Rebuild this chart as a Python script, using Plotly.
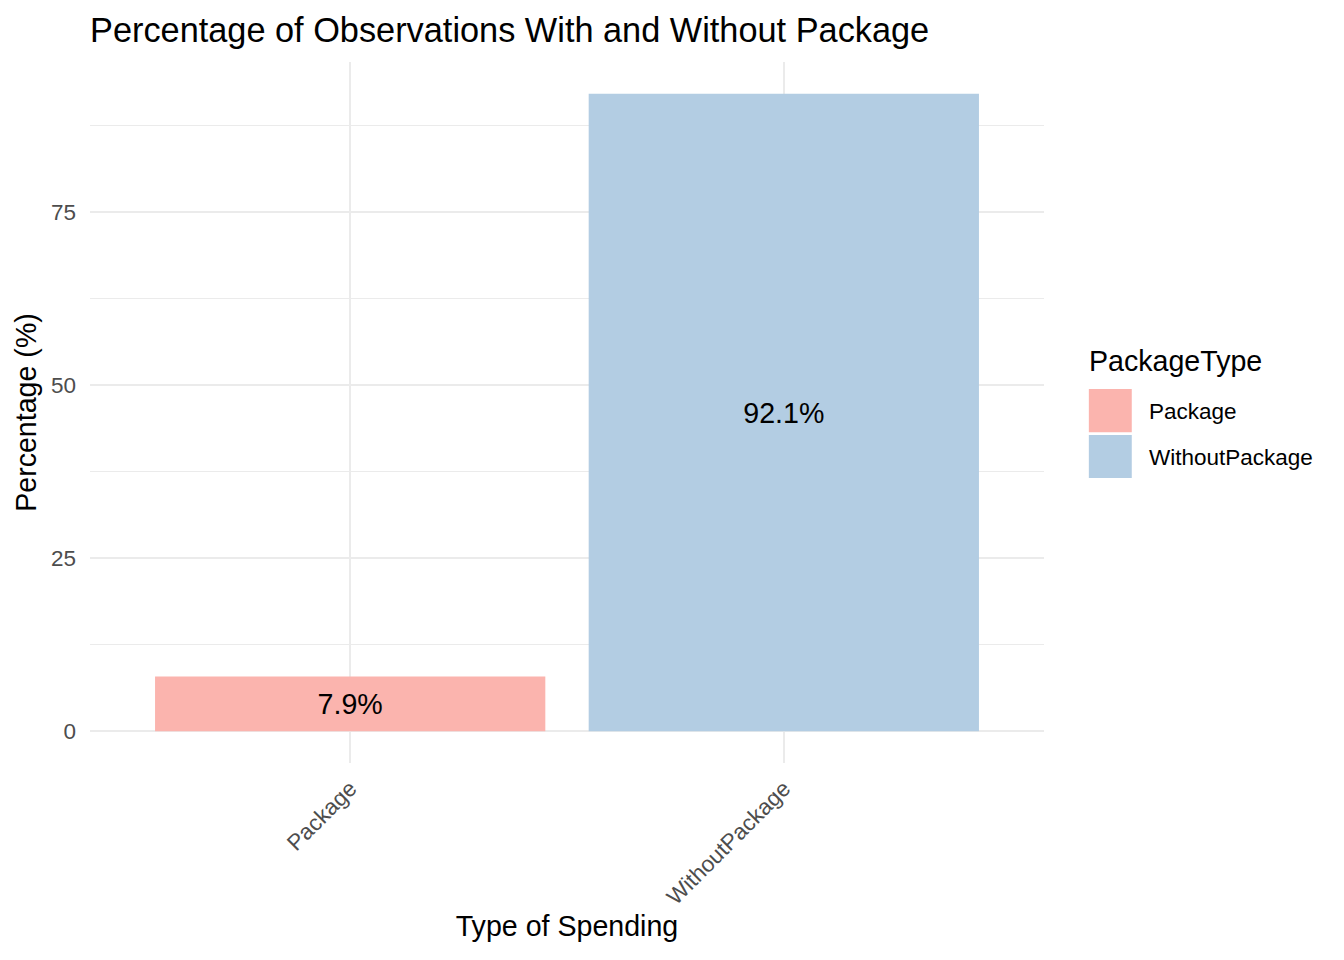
import plotly.graph_objects as go

# Share of observations by package type
categories = ["Package", "WithoutPackage"]
percentages = [7.9, 92.1]
labels = ["7.9%", "92.1%"]
colors = ["#FBB4AE", "#B3CDE3"]

FONT = "Liberation Sans, Arial, sans-serif"
GRID = "#EBEBEB"
BASE = 28.6
SMALL = 22.5

fig = go.Figure()
fig.add_trace(go.Bar(
    x=categories, y=percentages, text=labels,
    marker=dict(color=colors, line=dict(width=0)),
    width=0.9,
    textposition="inside", insidetextanchor="middle",
    textfont=dict(family=FONT, size=BASE, color="black"),
    constraintext="none", showlegend=False, hoverinfo="x+y",
))

ymax = max(percentages)
pad = ymax * 0.05

# page body adds an 8px offset, margins compensate for it
fig.update_layout(
    width=1344, height=960,
    paper_bgcolor="white", plot_bgcolor="white",
    margin=dict(l=82, r=308, t=54, b=205),
    font=dict(family=FONT, color="black"),
    title=dict(text="Percentage of Observations With and Without Package",
               x=0, xref="paper", xanchor="left", y=1 - 22 / 960, yanchor="middle",
               font=dict(size=BASE * 1.2, color="black")),
    xaxis=dict(
        range=[-0.6, 1.6], showgrid=True, gridcolor=GRID, gridwidth=1.8,
        tickangle=-45, tickfont=dict(size=SMALL, color="#4D4D4D"),
        ticklabelstandoff=7,
        title=dict(text="Type of Spending", font=dict(size=BASE), standoff=6),
        showline=False, zeroline=False, ticks="",
    ),
    yaxis=dict(
        range=[-pad, ymax + pad], tickvals=[0, 25, 50, 75],
        showgrid=True, gridcolor=GRID, gridwidth=1.8,
        minor=dict(dtick=12.5, tick0=0, showgrid=True, gridcolor=GRID, gridwidth=0.9),
        zeroline=False, showline=False, ticks="",
        tickfont=dict(size=SMALL, color="#4D4D4D"),
        ticklabelstandoff=13,
        title=dict(text="Percentage (%)", font=dict(size=BASE), standoff=5),
    ),
)

# legend drawn as boxes to match ggplot key size
fig.add_annotation(text="PackageType", xref="paper", yref="paper",
                   x=1.045, y=0.573, xanchor="left", yanchor="middle",
                   showarrow=False, font=dict(size=BASE, color="black"))
key_top = 0.5335
key_h = 0.0615
for i, (cat, col) in enumerate(zip(categories, colors)):
    y1 = key_top - i * (key_h + 0.004)
    y0 = y1 - key_h
    fig.add_shape(type="rect", xref="paper", yref="paper",
                  x0=1.047, x1=1.092, y0=y0, y1=y1,
                  fillcolor=col, line=dict(width=0))
    fig.add_annotation(text=cat, xref="paper", yref="paper",
                       x=1.108, y=(y0 + y1) / 2 - 0.002, xanchor="left", yanchor="middle",
                       showarrow=False, font=dict(size=SMALL, color="black"))

fig.write_html("out.html")
